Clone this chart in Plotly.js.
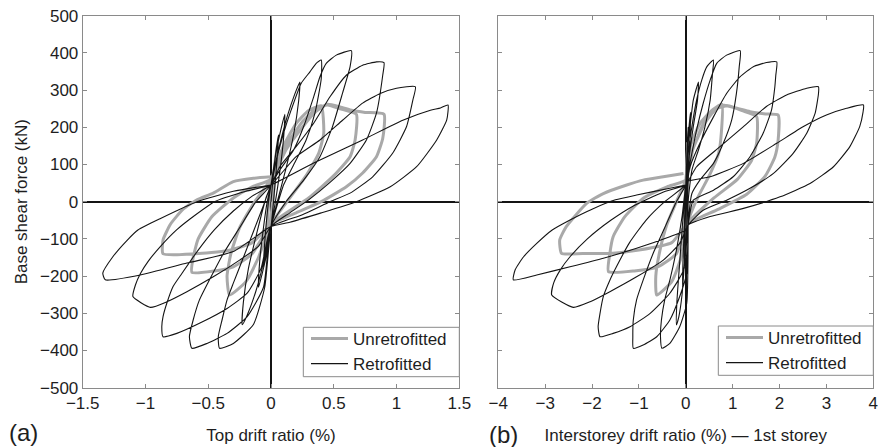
<!DOCTYPE html>
<html>
<head>
<meta charset="utf-8">
<script src="https://cdn.plot.ly/plotly-3.0.1.min.js"></script>
<style>html,body{margin:0;padding:0;background:#fff;}#chart{width:878px;height:447px;}</style>
</head>
<body>
<div id="chart"></div>
<script>
// ---- (a) Top drift ratio (%) vs base shear force (kN) ----
const topDriftUnretro = [
  0,0.03,0.05,0.03,0,-0.03,-0.05,-0.03,0,
  0.10,0.20,0.30,0.40,0.42,0.38,0.28,0.15,0,
  -0.10,-0.20,-0.33,-0.35,-0.32,-0.25,-0.13,0,
  0.12,0.25,0.36,0.45,0.55,0.68,0.67,0.63,0.50,0.30,0,
  -0.15,-0.30,-0.45,-0.63,-0.62,-0.58,-0.47,-0.30,-0.15,0,
  0.12,0.25,0.35,0.45,0.55,0.65,0.75,0.90,0.89,0.84,0.73,0.60,0.40,0.20,0,
  -0.15,-0.35,-0.60,-0.86,-0.86,-0.80,-0.70,-0.59,-0.46,-0.30,-0.14,0
];
const topShearUnretro = [
  0,100,150,60,-40,-110,-150,-60,55,
  150,210,245,258,184,130,70,10,-60,
  -150,-215,-251,-200,-140,-70,0,60,
  150,215,250,260,250,235,166,121,70,10,-60,
  -140,-175,-186,-190,-150,-100,-40,10,40,60,
  140,200,240,262,255,245,240,235,170,121,77,40,0,-30,-60,
  -110,-132,-140,-140,-103,-60,-20,5,23,54,63,67
];
const topDriftRetro = [
  0,0.03,0.06,0.05,0.02,0,-0.03,-0.06,-0.05,-0.02,0,
  0.05,0.11,0.10,0.07,0.03,0,-0.04,-0.10,-0.09,-0.06,-0.03,0,
  0.06,0.13,0.19,0.23,0.22,0.18,0.12,0.05,0,
  -0.05,-0.12,-0.19,-0.23,-0.22,-0.18,-0.11,-0.04,0,
  0.05,0.10,0.16,0.24,0.31,0.36,0.40,0.40,0.35,0.28,0.20,0.10,0.04,0,
  -0.05,-0.14,-0.30,-0.41,-0.42,-0.39,-0.35,-0.30,-0.22,-0.14,-0.06,0,
  0.07,0.18,0.26,0.34,0.39,0.44,0.52,0.64,0.63,0.57,0.49,0.39,0.26,0.12,0,
  -0.06,-0.19,-0.35,-0.51,-0.63,-0.65,-0.62,-0.57,-0.49,-0.38,-0.25,-0.12,0,
  0.07,0.20,0.34,0.47,0.60,0.73,0.84,0.90,0.89,0.84,0.76,0.63,0.47,0.30,0.15,0,
  -0.08,-0.19,-0.35,-0.57,-0.75,-0.86,-0.87,-0.86,-0.83,-0.78,-0.71,-0.58,-0.45,-0.30,-0.15,0,
  0.20,0.39,0.57,0.73,0.87,1.00,1.15,1.13,1.08,0.97,0.81,0.63,0.47,0.25,0,
  -0.10,-0.25,-0.46,-0.67,-0.83,-0.96,-1.10,-1.08,-1.04,-0.98,-0.88,-0.75,-0.60,-0.45,-0.20,0,
  0.34,0.73,1.05,1.27,1.35,1.41,1.40,1.32,1.16,0.95,0.68,0.40,0.15,0,
  -0.30,-0.67,-1.04,-1.32,-1.34,-1.26,-1.15,-1.06,-0.88,-0.59,-0.30,0
];
const topShearRetro = [
  0,110,180,120,0,-67,-110,-175,-110,0,45,
  150,235,170,80,-10,-67,-150,-230,-160,-70,0,45,
  140,230,290,322,270,180,90,0,-67,
  -150,-240,-305,-331,-270,-180,-80,10,45,
  121,184,246,318,349,372,381,330,238,166,112,45,-20,-67,
  -230,-330,-381,-394,-363,-318,-264,-219,-150,-80,-10,45,
  85,139,202,282,336,372,394,406,363,292,202,121,58,0,-67,
  -230,-309,-354,-381,-394,-363,-318,-264,-210,-140,-70,0,45,
  94,148,211,282,340,367,376,374,340,238,166,103,52,5,-30,-67,
  -180,-246,-287,-327,-354,-363,-336,-309,-273,-228,-193,-130,-75,-25,15,45,
  121,166,219,265,291,305,309,273,202,131,67,23,0,-35,-67,
  -120,-157,-202,-242,-269,-284,-255,-224,-193,-161,-120,-75,-35,0,28,45,
  104,166,219,246,252,260,220,166,94,40,0,-30,-55,-67,
  -134,-165,-197,-210,-192,-148,-105,-76,-45,0,28,45
];

// ---- (b) Interstorey drift ratio (%) - 1st storey vs base shear force (kN) ----
const storeyDriftUnretro = [
  0,0.02,0.04,0.03,0.02,0,-0.03,-0.02,0,
  0.10,0.30,0.55,0.77,0.76,0.70,0.50,0.25,0.03,
  -0.10,-0.30,-0.62,-0.64,-0.55,-0.40,-0.20,0,
  0.15,0.40,0.65,0.90,1.20,1.51,1.51,1.40,1.10,0.60,0.03,
  -0.20,-0.60,-1.10,-1.65,-1.62,-1.55,-1.30,-0.90,-0.40,0,
  0.15,0.40,0.77,1.09,1.37,1.70,1.97,1.97,1.90,1.70,1.30,0.70,0.03,
  -0.30,-1.00,-1.62,-2.20,-2.65,-2.69,-2.55,-2.11,-1.76,-1.26,-0.91,-0.48,-0.05
];
const storeyShearUnretro = [
  0,100,160,60,-40,-110,-150,-60,58,
  150,210,245,262,188,130,70,10,-60,
  -150,-215,-251,-200,-130,-60,0,58,
  140,210,250,258,245,229,157,110,60,10,-60,
  -140,-175,-186,-188,-139,-94,-40,10,40,58,
  140,215,260,251,242,236,233,166,120,70,20,-20,-60,
  -110,-130,-139,-139,-139,-103,-67,-4,22,45,58,67,76
];
const storeyDriftRetro = [
  0,0.02,0.05,0.04,0.02,0.02,0,-0.03,-0.02,0,0,
  0.04,0.10,0.09,0.06,0.03,0.02,-0.02,-0.07,-0.06,-0.03,0,
  0.03,0.09,0.16,0.27,0.25,0.16,0.08,0.03,0.05,
  -0.02,-0.08,-0.15,-0.20,-0.19,-0.14,-0.07,0,
  0.05,0.13,0.23,0.34,0.45,0.59,0.57,0.52,0.41,0.27,0.13,0.05,0.05,
  0.02,-0.13,-0.34,-0.51,-0.54,-0.52,-0.45,-0.34,-0.20,-0.08,0,
  0.13,0.23,0.37,0.52,0.66,0.87,1.16,1.14,1.08,0.98,0.80,0.59,0.30,0.13,0.05,
  0.02,-0.13,-0.34,-0.62,-0.91,-1.12,-1.13,-1.12,-1.05,-0.91,-0.70,-0.45,-0.20,0,
  0.09,0.30,0.59,0.87,1.16,1.44,1.72,1.94,1.92,1.90,1.83,1.65,1.37,1.01,0.59,0.16,0.05,
  -0.05,-0.34,-0.76,-1.19,-1.55,-1.83,-1.87,-1.83,-1.76,-1.62,-1.48,-1.20,-0.85,-0.45,0,
  0.23,0.73,1.23,1.72,2.15,2.58,2.83,2.83,2.76,2.58,2.29,1.87,1.37,0.87,0.37,0.05,
  -0.13,-0.48,-1.05,-1.62,-2.04,-2.40,-2.86,-2.82,-2.68,-2.47,-2.10,-1.60,-1.10,-0.50,0,
  0.02,0.52,1.23,1.94,2.51,3.00,3.43,3.79,3.78,3.71,3.50,3.15,2.65,2.01,1.23,0.52,0.05,
  0.02,-0.34,-1.05,-1.76,-2.47,-3.18,-3.68,-3.64,-3.46,-3.18,-2.85,-2.47,-2.00,-1.50,-1.05,-0.34,0
];
const storeyShearRetro = [
  0,120,200,120,0,-63,-120,-180,-100,0,45,
  150,240,170,80,0,-63,-150,-230,-160,-60,45,
  130,202,273,322,273,202,130,67,-63,
  -150,-250,-310,-331,-270,-180,-60,45,
  130,202,273,327,363,381,345,273,202,139,85,0,-63,
  -273,-336,-381,-394,-363,-318,-264,-211,-130,-40,45,
  130,193,264,327,372,394,406,363,291,220,157,103,58,22,-63,
  -192,-255,-318,-363,-385,-394,-363,-318,-264,-211,-140,-70,0,45,
  94,157,228,291,336,363,374,376,340,309,247,184,121,67,31,4,-63,
  -184,-246,-300,-336,-354,-363,-336,-300,-255,-211,-175,-110,-50,0,45,
  94,148,202,256,287,305,309,290,238,184,130,76,36,4,-23,-63,
  -112,-157,-202,-242,-269,-284,-251,-219,-184,-148,-100,-50,-10,25,45,
  54,67,103,157,202,233,251,260,240,202,148,94,49,13,-18,-40,-63,
  -76,-94,-125,-152,-175,-197,-210,-183,-148,-112,-76,-49,-20,5,18,36,45
];

const seriesNames = ['Unretrofitted', 'Retrofitted'];
const xTickVals = [-1.5, -1, -0.5, 0, 0.5, 1, 1.5];
const x2TickVals = [-4, -3, -2, -1, 0, 1, 2, 3, 4];
const yTickVals = [-500, -400, -300, -200, -100, 0, 100, 200, 300, 400, 500];

const FONT = 'Liberation Sans, Arial, Helvetica, sans-serif';
const GRAY = '#a9a9a9', BLACK = '#141414', FRAME = '#8a8a8a', TXT = '#1e1e1e';

const traces = [
  {x: topDriftUnretro, y: topShearUnretro, name: seriesNames[0], type: 'scatter', mode: 'lines',
   line: {color: GRAY, width: 3, shape: 'spline', smoothing: 0.5}, xaxis: 'x', yaxis: 'y', legend: 'legend'},
  {x: topDriftRetro, y: topShearRetro, name: seriesNames[1], type: 'scatter', mode: 'lines',
   line: {color: BLACK, width: 1.1, shape: 'spline', smoothing: 0.5}, xaxis: 'x', yaxis: 'y', legend: 'legend'},
  {x: storeyDriftUnretro, y: storeyShearUnretro, name: seriesNames[0], type: 'scatter', mode: 'lines',
   line: {color: GRAY, width: 3, shape: 'spline', smoothing: 0.5}, xaxis: 'x2', yaxis: 'y2', legend: 'legend2'},
  {x: storeyDriftRetro, y: storeyShearRetro, name: seriesNames[1], type: 'scatter', mode: 'lines',
   line: {color: BLACK, width: 1.1, shape: 'spline', smoothing: 0.5}, xaxis: 'x2', yaxis: 'y2', legend: 'legend2'}
];

const W = 878, H = 447;
const axCommon = {
  showgrid: false, showline: true, linecolor: FRAME, linewidth: 1, mirror: 'ticks',
  ticks: 'inside', ticklen: 4, tickcolor: FRAME, tickwidth: 1,
  zeroline: true, zerolinecolor: BLACK, zerolinewidth: 2,
  tickfont: {family: FONT, size: 17, color: TXT}, fixedrange: true, ticklabeloverflow: 'allow'
};
const legendCommon = {
  bgcolor: 'rgba(0,0,0,0)', borderwidth: 0,
  font: {family: FONT, size: 17, color: TXT}, xanchor: 'left', yanchor: 'top',
  tracegroupgap: 0, itemwidth: 37
};
// legend frames (drawn as shapes so their size matches the reference boxes)
const legendBox = (x0, x1, y0, y1) => ({
  type: 'rect', xref: 'paper', yref: 'paper', layer: 'above',
  x0: x0 / W, x1: x1 / W, y0: 1 - y1 / H, y1: 1 - y0 / H,
  line: {color: FRAME, width: 1}, fillcolor: '#fff'
});

const layout = {
  width: W, height: H,
  margin: {l: 0, r: 0, t: 0, b: 0},
  paper_bgcolor: '#fff', plot_bgcolor: '#fff',
  showlegend: true,
  font: {family: FONT, color: TXT},
  xaxis: Object.assign({}, axCommon, {
    domain: [82.7 / W, 459.3 / W], range: [-1.5, 1.5], tickvals: xTickVals, anchor: 'y',
    title: {text: 'Top drift ratio (%)', font: {family: FONT, size: 17, color: TXT}, standoff: 17}
  }),
  yaxis: Object.assign({}, axCommon, {
    domain: [1 - 387.7 / H, 1 - 15.7 / H], range: [-500, 500], tickvals: yTickVals, anchor: 'x',
    title: {text: 'Base shear force (kN)', font: {family: FONT, size: 17, color: TXT}, standoff: 8}
  }),
  xaxis2: Object.assign({}, axCommon, {
    domain: [498.3 / W, 873.3 / W], range: [-4, 4], tickvals: x2TickVals, anchor: 'y2',
    title: {text: 'Interstorey drift ratio (%) \u2014 1st storey', font: {family: FONT, size: 17, color: TXT}, standoff: 17}
  }),
  yaxis2: Object.assign({}, axCommon, {
    domain: [1 - 387.7 / H, 1 - 15.7 / H], range: [-500, 500], tickvals: yTickVals, anchor: 'x2',
    showticklabels: false
  }),
  legend: Object.assign({}, legendCommon, {x: 306 / W, y: 1 - 321 / H}),
  legend2: Object.assign({}, legendCommon, {x: 721 / W, y: 1 - 320 / H}),
  shapes: [legendBox(303.3, 459.3, 327.3, 376.7), legendBox(718.3, 873.3, 326, 375.3)],
  annotations: [
    {text: '(a)', x: 7 / W, y: 1 - 432 / H, xref: 'paper', yref: 'paper', xanchor: 'left', yanchor: 'middle',
     showarrow: false, font: {family: FONT, size: 24, color: TXT}},
    {text: '(b)', x: 487 / W, y: 1 - 434 / H, xref: 'paper', yref: 'paper', xanchor: 'left', yanchor: 'middle',
     showarrow: false, font: {family: FONT, size: 24, color: TXT}}
  ]
};

Plotly.newPlot('chart', traces, layout, {displayModeBar: false, staticPlot: true});
</script>
</body>
</html>
